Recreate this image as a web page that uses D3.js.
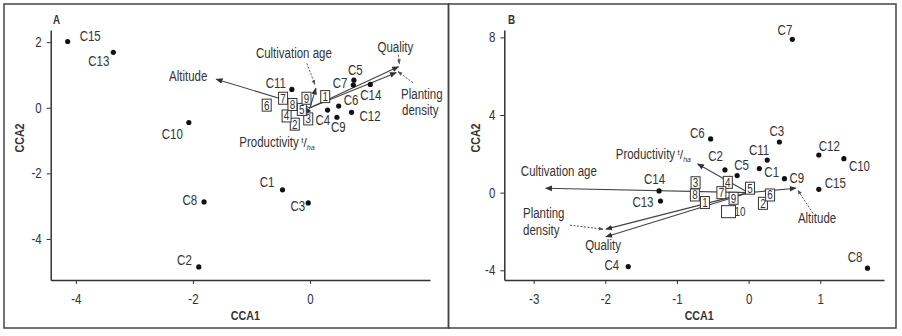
<!DOCTYPE html>
<html>
<head>
<meta charset="utf-8">
<script src="https://cdn.jsdelivr.net/npm/d3@7"></script>
<style>
    body { margin: 0; background: #fff; }
    svg text { font-family: "Liberation Sans", Arial, sans-serif; fill: #333; }
</style>
</head>
<body>
<svg id="chart" width="902" height="336"></svg>
<script>
// sites (C1..C15)
const siteNames = ['C1', 'C2', 'C3', 'C4', 'C5', 'C6', 'C7', 'C8', 'C9', 'C10', 'C11', 'C12', 'C13', 'C14', 'C15'];
const sitesA_cca1 = [-0.47, -1.90, -0.03, 0.30, 0.75, 0.49, 0.74, -1.81, 0.46, -2.07, -0.31, 0.71, -3.36, 1.03, -4.14];
const sitesA_cca2 = [-2.50, -4.85, -2.90, -0.07, 0.84, 0.05, 0.69, -2.87, -0.29, -0.45, 0.56, -0.14, 1.69, 0.71, 2.02];
const sitesB_cca1 = [0.15, -0.33, 0.43, -1.68, -0.16, -0.53, 0.61, 1.66, 0.50, 1.33, 0.26, 0.98, -1.23, -1.25, 0.98];
const sitesB_cca2 = [1.24, 1.17, 2.61, -3.81, 0.88, 2.77, 7.90, -3.89, 0.72, 1.75, 1.68, 1.94, -0.43, 0.09, 0.17];

// species boxes
const speciesA = ['1', '2', '3', '4', '5', '6', '7', '8', '9'];
const speciesA_cca1 = [0.26, -0.26, -0.03, -0.40, -0.14, -0.74, -0.46, -0.30, -0.06];
const speciesA_cca2 = [0.34, -0.50, -0.34, -0.25, -0.05, 0.08, 0.29, 0.10, 0.29];
const speciesB = ['1', '2', '3', '4', '5', '6', '7', '8', '9', '10'];
const speciesB_cca1 = [-0.61, 0.20, -0.74, -0.29, 0.02, 0.30, -0.38, -0.75, -0.21, -0.28];
const speciesB_cca2 = [-0.51, -0.55, 0.51, 0.53, 0.23, -0.12, 0.00, -0.12, -0.29, -0.98];

// environmental vectors
const envVars = ['Altitude', 'Cultivation age', 'Quality', 'Planting density', 'Productivity'];
const envA_cca1 = [-1.60, 0.10, 1.51, 1.47, -0.08];
const envA_cca2 = [0.87, 0.59, 1.25, 1.07, -0.20];
const envB_cca1 = [0.66, -2.83, -1.99, -1.99, -0.71];
const envB_cca2 = [0.23, 0.23, -2.27, -1.88, 1.48];

const xTicksA = [-4, -2, 0];
const yTicksA = [2, 0, -2, -4];
const xTicksB = [-3, -2, -1, 0, 1];
const yTicksB = [8, 4, 0, -4];

// label placement (pixels relative to mark): [dx, dy, anchor]
const siteLabelPosA = {
    C1: [-8, -3, 'end'], C2: [-7, -2, 'end'], C3: [-3, 8, 'end'], C4: [-12, 15, 'start'],
    C5: [-6, -5, 'start'], C6: [5, -1, 'start'], C7: [-6, 3, 'end'], C8: [-7, 3, 'end'],
    C9: [-6, 15, 'start'], C10: [-6, 16, 'end'], C11: [-6, -1, 'end'], C12: [8, 9, 'start'],
    C13: [-4, 14, 'end'], C14: [-10, 16, 'start'], C15: [12, 0, 'start']
};
const siteLabelPosB = {
    C1: [5, 8, 'start'], C2: [-2, -9, 'end'], C3: [-10, -6, 'start'], C4: [-9, 3, 'end'],
    C5: [-3, -6, 'start'], C6: [-6, -1, 'end'], C7: [0, -4, 'end'], C8: [-5, -6, 'end'],
    C9: [5, 4, 'start'], C10: [5, 12, 'start'], C11: [2, -5, 'end'], C12: [0, -4, 'start'],
    C13: [-7, 6, 'end'], C14: [-15, -6.5, 'start'], C15: [6, -1, 'start']
};
// env labels: lines [text, dx, dy], anchor, leader [x1,y1,x2,y2] or null
const envLabelPosA = {
    'Altitude': {anchor: 'end', lines: [['Altitude', -9, 2]], leader: null},
    'Cultivation age': {anchor: 'middle', lines: [['Cultivation age', -22, -30]], leader: [-9, -25, -1, -4]},
    'Quality': {anchor: 'middle', lines: [['Quality', -3, -15]], leader: [0, -12, 1, -3]},
    'Planting density': {anchor: 'start', lines: [['Planting', 5, 26], ['density', 6, 42]], leader: [17, 10, 2, -1]},
    'Productivity': {anchor: 'start', lines: [['Productivity', -66, 33]], leader: null}
};
const envLabelPosB = {
    'Altitude': {anchor: 'start', lines: [['Altitude', 2, 35]], leader: [17, 25, 2, 2]},
    'Cultivation age': {anchor: 'start', lines: [['Cultivation age', -25, -12]], leader: null},
    'Quality': {anchor: 'middle', lines: [['Quality', -3, 13]], leader: null},
    'Planting density': {anchor: 'start', lines: [['Planting', -83, -11], ['density', -83, 6]], leader: [-36, -4, -3, 0]},
    'Productivity': {anchor: 'start', lines: [['Productivity', -82, -4.5]], leader: null}
};

const svg = d3.select('#chart');
const ink = '#333';
const narrow = 0.82; // the original type is a narrow grotesque

const defs = svg.append('defs');
defs.append('marker')
    .attr('id', 'arrow')
    .attr('viewBox', '0 -4 8 8')
    .attr('refX', 7).attr('refY', 0)
    .attr('markerWidth', 7).attr('markerHeight', 7)
    .attr('markerUnits', 'userSpaceOnUse')
    .attr('orient', 'auto')
  .append('path')
    .attr('d', 'M0,-3.2L8,0L0,3.2Z')
    .attr('fill', ink);
defs.append('marker')
    .attr('id', 'arrowSmall')
    .attr('viewBox', '0 -4 8 8')
    .attr('refX', 7).attr('refY', 0)
    .attr('markerWidth', 5).attr('markerHeight', 5)
    .attr('markerUnits', 'userSpaceOnUse')
    .attr('orient', 'auto')
  .append('path')
    .attr('d', 'M0,-3L8,0L0,3Z')
    .attr('fill', '#555');

// squeeze a label to a narrow width, no narrow face is installed
const condense = function condense(sel) {
    sel.each(function() {
        const w = this.getComputedTextLength();
        d3.select(this)
            .attr('textLength', w * narrow)
            .attr('lengthAdjust', 'spacingAndGlyphs');
    });
    return sel;
};

// panel frames
svg.append('rect').attr('x', 4).attr('y', 4).attr('width', 444.5).attr('height', 324)
    .attr('fill', 'none').attr('stroke', '#444').attr('stroke-width', 1.5);
svg.append('rect').attr('x', 448.5).attr('y', 4).attr('width', 447.5).attr('height', 324)
    .attr('fill', 'none').attr('stroke', '#444').attr('stroke-width', 1.5);

const drawPanel = function drawPanel(p) {
    const x = d3.scaleLinear().domain(p.xDomain).range(p.xRange);
    const y = d3.scaleLinear().domain(p.yDomain).range(p.yRange);
    const g = svg.append('g');

    // axes
    const fmt = (d) => String(d);
    const xAxis = g.append('g')
        .attr('transform', 'translate(0,' + p.yRange[0] + ')')
        .call(d3.axisBottom(x).tickValues(p.xTicks).tickFormat(fmt).tickSize(4).tickPadding(6).tickSizeOuter(0));
    const yAxis = g.append('g')
        .attr('transform', 'translate(' + p.xRange[0] + ',0)')
        .call(d3.axisLeft(y).tickValues(p.yTicks).tickFormat(fmt).tickSize(4).tickPadding(5).tickSizeOuter(0));
    [xAxis, yAxis].forEach((a) => {
        a.select('.domain').attr('stroke', ink).attr('stroke-width', 1.5);
        a.selectAll('.tick line').attr('stroke', ink);
        condense(a.selectAll('.tick text').style('font-size', '14px').attr('fill', ink));
    });
    xAxis.selectAll('.tick text').attr('dy', '1em');

    condense(g.append('text')
        .attr('x', (p.xRange[0] + p.xRange[1]) / 2 + p.xTitleShift)
        .attr('y', 320)
        .attr('text-anchor', 'middle')
        .style('font-size', '13px').style('font-weight', 'bold')
        .text('CCA1'));
    condense(g.append('text')
        .attr('transform', 'translate(' + p.yTitleX + ',138) rotate(-90)')
        .attr('text-anchor', 'middle')
        .style('font-size', '13px').style('font-weight', 'bold')
        .text('CCA2'));
    condense(g.append('text')
        .attr('x', p.letterX).attr('y', 24)
        .style('font-size', '12px').style('font-weight', 'bold')
        .text(p.letter));

    // environmental arrows
    const env = envVars.map((name, i) => ({name: name, cx: p.env1[i], cy: p.env2[i]}));
    g.selectAll('.env')
        .data(env)
        .enter()
      .append('line')
        .attr('class', 'env')
        .attr('x1', x(0)).attr('y1', y(0))
        .attr('x2', (d) => x(d.cx)).attr('y2', (d) => y(d.cy))
        .attr('stroke', '#444').attr('stroke-width', 1.1)
        .attr('marker-end', 'url(#arrow)');

    // sites
    const sites = siteNames.map((name, i) => ({name: name, cx: p.site1[i], cy: p.site2[i]}));
    g.selectAll('.site')
        .data(sites)
        .enter()
      .append('circle')
        .attr('class', 'site')
        .attr('cx', (d) => x(d.cx)).attr('cy', (d) => y(d.cy))
        .attr('r', 2.6)
        .attr('fill', '#111');

    // species boxes
    const species = p.species.map((name, i) => ({name: name, cx: p.sp1[i], cy: p.sp2[i]}));
    const box = g.selectAll('.sp')
        .data(species)
        .enter()
      .append('g')
        .attr('class', 'sp')
        .attr('transform', (d) => 'translate(' + x(d.cx) + ',' + y(d.cy) + ')');
    box.append('rect')
        .attr('x', (d) => d.name.length > 1 ? -7 : -4.5)
        .attr('y', -6)
        .attr('width', (d) => d.name.length > 1 ? 14 : 9)
        .attr('height', 12)
        .attr('fill', '#fff')
        .attr('stroke', ink).attr('stroke-width', 1);
    condense(box.append('text')
        .attr('x', (d) => d.name.length > 1 ? 6 : 0)
        .attr('y', 4.5)
        .attr('text-anchor', (d) => d.name.length > 1 ? 'start' : 'middle')
        .style('font-size', '12px')
        .text((d) => d.name));

    // site labels
    condense(g.selectAll('.site-label')
        .data(sites)
        .enter()
      .append('text')
        .attr('class', 'site-label')
        .attr('x', (d) => x(d.cx) + p.siteLabels[d.name][0])
        .attr('y', (d) => y(d.cy) + p.siteLabels[d.name][1])
        .attr('text-anchor', (d) => p.siteLabels[d.name][2])
        .style('font-size', '14px')
        .text((d) => d.name));

    // env labels and leaders
    env.forEach((d) => {
        const pos = p.envLabels[d.name];
        const tx = x(d.cx);
        const ty = y(d.cy);
        pos.lines.forEach((ln) => {
            const t = condense(g.append('text')
                .attr('x', tx + ln[1]).attr('y', ty + ln[2])
                .attr('text-anchor', pos.anchor)
                .style('font-size', '14px')
                .text(ln[0]));
            if (d.name === 'Productivity') {
                // unit written as a small fraction t/ha, one text element
                const end = tx + ln[1] + (+t.attr('textLength'));
                const frac = g.append('text')
                    .attr('x', end + 2.5).attr('y', ty + ln[2]);
                frac.append('tspan').attr('dy', -4).style('font-size', '8px').text('t');
                frac.append('tspan').attr('dy', 4).style('font-size', '12px').text('/');
                frac.append('tspan').attr('dy', 3).style('font-size', '7px').style('font-style', 'italic').text('ha');
            }
        });
        if (pos.leader) {
            g.append('line')
                .attr('x1', tx + pos.leader[0]).attr('y1', ty + pos.leader[1])
                .attr('x2', tx + pos.leader[2]).attr('y2', ty + pos.leader[3])
                .attr('stroke', '#555').attr('stroke-width', 1)
                .attr('stroke-dasharray', '2,1.5')
                .attr('marker-end', 'url(#arrowSmall)');
        }
    });
};

drawPanel({
    letter: 'A', letterX: 53,
    xDomain: [-4.43, 2.05], xRange: [50.7, 430],
    yDomain: [-5.25, 2.37], yRange: [280, 30],
    xTicks: xTicksA, yTicks: yTicksA,
    xTitleShift: 5, yTitleX: 24,
    site1: sitesA_cca1, site2: sitesA_cca2,
    species: speciesA, sp1: speciesA_cca1, sp2: speciesA_cca2,
    env1: envA_cca1, env2: envA_cca2,
    siteLabels: siteLabelPosA, envLabels: envLabelPosA
});

drawPanel({
    letter: 'B', letterX: 508,
    xDomain: [-3.41, 1.89], xRange: [504.3, 884],
    yDomain: [-4.5, 8.38], yRange: [280, 30],
    xTicks: xTicksB, yTicks: yTicksB,
    xTitleShift: 5, yTitleX: 480,
    site1: sitesB_cca1, site2: sitesB_cca2,
    species: speciesB, sp1: speciesB_cca1, sp2: speciesB_cca2,
    env1: envB_cca1, env2: envB_cca2,
    siteLabels: siteLabelPosB, envLabels: envLabelPosB
});
</script>
</body>
</html>
